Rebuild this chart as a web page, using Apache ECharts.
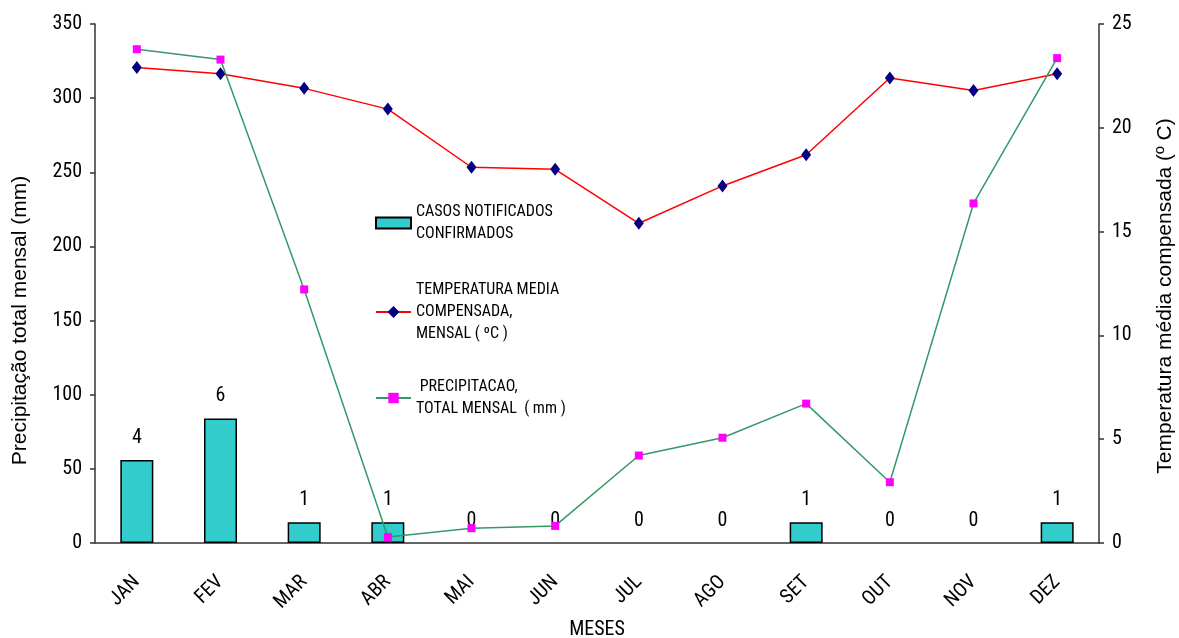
<!DOCTYPE html>
<html>
<head>
<meta charset="utf-8">
<script src="https://cdn.jsdelivr.net/npm/echarts@6/dist/echarts.min.js"></script>
<style>
  html, body { margin: 0; padding: 0; background: #fff; }
  #chart { width: 1179px; height: 638px; }
</style>
</head>
<body>
<div id="chart"></div>
<script>
// Monthly data
const months = ['JAN', 'FEV', 'MAR', 'ABR', 'MAI', 'JUN', 'JUL', 'AGO', 'SET', 'OUT', 'NOV', 'DEZ'];
const casos = [4, 6, 1, 1, 0, 0, 0, 0, 1, 0, 0, 1];
const temperatura = [22.9, 22.6, 21.9, 20.9, 18.1, 18.0, 15.4, 17.2, 18.7, 22.4, 21.8, 22.6];
const precipitacao = [333, 326, 171, 4, 10, 11.5, 59, 71, 94, 41, 229, 327];

const leftTicks = { min: 0, max: 350, interval: 50 };
const rightTicks = { min: 0, max: 25, interval: 5 };

const NAME_CASOS = 'CASOS NOTIFICADOS\nCONFIRMADOS';
const NAME_TEMP = 'TEMPERATURA MEDIA\nCOMPENSADA,\nMENSAL ( ºC )';
const NAME_PREC = ' PRECIPITACAO,\nTOTAL MENSAL  ( mm )';

const narrow = "'Roboto Condensed', 'Liberation Sans Narrow', 'Liberation Sans', sans-serif";
const regular = "'Liberation Sans', Arial, sans-serif";
const axisColor = '#333';
const LH = 22;

// one legend block per series so each multi-line entry keeps its icon on the first line
function legendFor(name, icon, lines, top, itemHeight) {
  return {
    orient: 'vertical',
    left: 375,
    top: top,
    padding: 0,
    itemWidth: 35,
    itemHeight: itemHeight,
    itemGap: 0,
    data: [{ name: name, icon: icon }],
    selectedMode: false,
    textStyle: {
      fontFamily: narrow,
      fontSize: 16,
      color: '#000',
      lineHeight: LH,
      padding: [(lines - 1) * LH, 0, 0, 0]
    }
  };
}

// zero-count months keep their label but draw no outline
const casosData = casos.map(v => v === 0 ? { value: v, itemStyle: { borderWidth: 0 } } : v);

const chart = echarts.init(document.getElementById('chart'));
chart.setOption({
  animation: false,
  backgroundColor: '#fff',
  grid: { left: 95, right: 80, top: 24, bottom: 95, containLabel: false, outerBoundsMode: 'none' },
  legend: [
    legendFor(NAME_CASOS, 'rect', 2, 223 - 33, 11),
    legendFor(NAME_TEMP, undefined, 3, 312 - 55, 15),
    legendFor(NAME_PREC, undefined, 2, 398 - 33, 13)
  ],
  xAxis: {
    type: 'category',
    data: months,
    boundaryGap: true,
    name: 'MESES',
    nameLocation: 'middle',
    nameGap: 75,
    nameTextStyle: { fontFamily: narrow, fontSize: 20, color: '#000' },
    axisLine: { lineStyle: { color: axisColor, width: 1.5 } },
    axisTick: { alignWithLabel: false, length: 6, lineStyle: { color: axisColor, width: 1.5 } },
    axisLabel: { rotate: 45, margin: 36, fontFamily: narrow, fontSize: 20, color: '#000' },
    splitLine: { show: false }
  },
  yAxis: [
    {
      type: 'value',
      position: 'left',
      min: leftTicks.min, max: leftTicks.max, interval: leftTicks.interval,
      name: 'Precipitação total mensal (mm)',
      nameLocation: 'middle',
      nameGap: 64,
      nameTextStyle: { fontFamily: regular, fontSize: 21, color: '#000', padding: [0, 74, 0, 0] },
      axisLine: { show: true, lineStyle: { color: axisColor, width: 1.5 } },
      axisTick: { show: true, length: 5, lineStyle: { color: axisColor, width: 1.5 } },
      axisLabel: { margin: 13, fontFamily: narrow, fontSize: 20, color: '#000' },
      splitLine: { show: false }
    },
    {
      type: 'value',
      position: 'right',
      min: rightTicks.min, max: rightTicks.max, interval: rightTicks.interval,
      name: 'Temperatura média compensada (º C)',
      nameLocation: 'middle',
      nameGap: 56,
      nameTextStyle: { fontFamily: regular, fontSize: 21, color: '#000', padding: [0, 25, 0, 0] },
      axisLine: { show: true, lineStyle: { color: axisColor, width: 1.5 } },
      axisTick: { show: true, length: 5, lineStyle: { color: axisColor, width: 1.5 } },
      axisLabel: { margin: 13, fontFamily: narrow, fontSize: 20, color: '#000' },
      splitLine: { show: false }
    }
  ],
  series: [
    {
      name: NAME_CASOS,
      type: 'bar',
      yAxisIndex: 1,
      data: casosData,
      barWidth: 33,
      itemStyle: { color: '#33CCCC', borderColor: '#000', borderWidth: 1.5 },
      label: {
        show: true,
        position: 'top',
        distance: 12,
        fontFamily: narrow,
        fontSize: 20,
        color: '#000'
      },
      z: 1
    },
    {
      name: NAME_TEMP,
      type: 'line',
      yAxisIndex: 1,
      data: temperatura,
      symbol: 'diamond',
      symbolSize: [10, 13],
      lineStyle: { color: '#FF0000', width: 1.5 },
      itemStyle: { color: '#000080' },
      z: 3
    },
    {
      name: NAME_PREC,
      type: 'line',
      yAxisIndex: 0,
      data: precipitacao,
      symbol: 'rect',
      symbolSize: 8,
      lineStyle: { color: '#339966', width: 1.5 },
      itemStyle: { color: '#FF00FF' },
      z: 4
    }
  ]
});
</script>
</body>
</html>
